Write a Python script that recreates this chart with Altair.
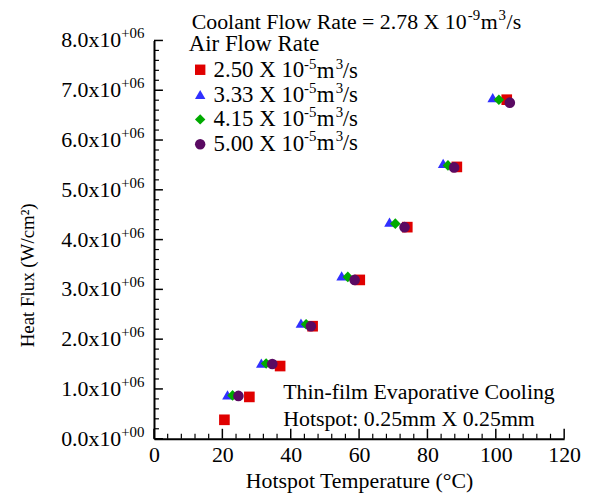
import altair as alt
import pandas as pd

FONT = "Liberation Serif"

# ---- data ----
series_labels = ["2.50 X 10", "3.33 X 10", "4.15 X 10", "5.00 X 10"]
series_exp = "-5"
series_unit = "m"
series_unit_exp = "3"
series_tail = "/s"
series_shapes = ["square", "triangle-up", "diamond", "circle"]
series_colors = ["#e00000", "#3030ff", "#00aa00", "#5a0a62"]

temp_250 = [20.6, 27.9, 36.9, 46.4, 60.2, 74.1, 88.6, 103.2]
flux_250 = [0.38e6, 0.84e6, 1.46e6, 2.26e6, 3.19e6, 4.25e6, 5.46e6, 6.81e6]

temp_333 = [21.5, 31.4, 43.0, 54.9, 68.9, 84.6, 99.1]
flux_333 = [0.88e6, 1.52e6, 2.32e6, 3.27e6, 4.35e6, 5.53e6, 6.85e6]

temp_415 = [23.0, 32.8, 44.5, 56.7, 70.6, 86.0, 100.9]
flux_415 = [0.87e6, 1.51e6, 2.30e6, 3.25e6, 4.32e6, 5.49e6, 6.81e6]

temp_500 = [24.7, 34.6, 45.9, 58.7, 73.3, 87.8, 104.1]
flux_500 = [0.86e6, 1.50e6, 2.26e6, 3.19e6, 4.25e6, 5.45e6, 6.75e6]

x_major = [0, 20, 40, 60, 80, 100, 120]
x_minor = [v for v in range(0, 121, 4) if v % 20 != 0]
y_major = [0, 1e6, 2e6, 3e6, 4e6, 5e6, 6e6, 7e6, 8e6]
y_minor = [i * 2e5 for i in range(41) if i % 5 != 0]
y_label_main = ["0.0x10", "1.0x10", "2.0x10", "3.0x10", "4.0x10", "5.0x10", "6.0x10", "7.0x10", "8.0x10"]
y_label_sup = ["+00", "+06", "+06", "+06", "+06", "+06", "+06", "+06", "+06"]

title_parts = ["Coolant Flow Rate = 2.78 X 10", "-9", "m", "3", "/s"]
note_lines = ["Thin-film Evaporative Cooling", "Hotspot: 0.25mm X 0.25mm"]
note_T = [37.8, 37.8]
note_Q = [0.94e6, 0.40e6]

# ---- tables ----
rows = []
for k, (ts, qs) in enumerate([(temp_250, flux_250), (temp_333, flux_333),
                              (temp_415, flux_415), (temp_500, flux_500)]):
    for t, q in zip(ts, qs):
        rows.append({"T": t, "Q": q, "series": series_labels[k], "ord": k})
df = pd.DataFrame(rows)

xs = alt.Scale(domain=[0, 120], nice=False, zero=False)
ys = alt.Scale(domain=[0, 8e6], nice=False, zero=False)

x_axis = alt.Axis(values=x_major, ticks=False, grid=False, domainColor="black",
                  domainWidth=2, labelFont=FONT, labelFontSize=22, labelColor="black",
                  labelPadding=6, title="Hotspot Temperature (°C)", titleFont=FONT,
                  titleFontSize=22, titleFontWeight="normal", titleColor="black",
                  titlePadding=5, labelFlush=False)
y_axis = alt.Axis(values=y_major, ticks=False, grid=False, labels=False,
                  domainColor="black", domainWidth=2,
                  title="Heat Flux (W/cm²)", titleFont=FONT, titleFontSize=19,
                  titleFontWeight="normal", titleColor="black",
                  titleX=-127, titleY=236, titleAngle=-90, titleBaseline="middle",
                  titleAlign="center")

x_enc = alt.X("T:Q", scale=xs, axis=x_axis)
y_enc = alt.Y("Q:Q", scale=ys, axis=y_axis)

legend = alt.Legend(title="Air Flow Rate", orient="none", legendX=35, legendY=-7,
                    titleFont=FONT, titleFontSize=23, titleFontWeight="normal",
                    titleColor="black", labelFont=FONT, labelFontSize=23,
                    labelColor="black", symbolSize=110, rowPadding=1, labelOffset=2,
                    titlePadding=2, symbolStrokeWidth=0)

points = alt.Chart(df).mark_point(filled=True, opacity=1, size=115, strokeWidth=0).encode(
    x=x_enc,
    y=y_enc,
    shape=alt.Shape("series:N", scale=alt.Scale(domain=series_labels, range=series_shapes),
                    legend=legend),
    color=alt.Color("series:N", scale=alt.Scale(domain=series_labels, range=series_colors),
                    legend=legend),
    order=alt.Order("ord:Q"),
)

xmaj = alt.Chart(pd.DataFrame({"T": x_major})).mark_rule(color="black", strokeWidth=1.5).encode(
    x=x_enc, y=alt.value(401), y2=alt.value(391))
xmin = alt.Chart(pd.DataFrame({"T": x_minor})).mark_rule(color="black", strokeWidth=1.2).encode(
    x=x_enc, y=alt.value(401), y2=alt.value(396))
ymaj = alt.Chart(pd.DataFrame({"Q": y_major})).mark_rule(color="black", strokeWidth=1.5).encode(
    y=y_enc, x=alt.value(0), x2=alt.value(9))
ymin = alt.Chart(pd.DataFrame({"Q": y_minor})).mark_rule(color="black", strokeWidth=1.2).encode(
    y=y_enc, x=alt.value(0), x2=alt.value(5))

ylab_df = pd.DataFrame({"Q": y_major, "main": y_label_main, "sup": y_label_sup})
ylab_main = alt.Chart(ylab_df).mark_text(font=FONT, fontSize=22, align="right",
                                         baseline="middle", color="black").encode(
    y=y_enc, x=alt.value(-33), text="main:N")
ylab_sup = alt.Chart(ylab_df).mark_text(font=FONT, fontSize=15, align="left",
                                        baseline="middle", color="black", dy=-7).encode(
    y=y_enc, x=alt.value(-33), text="sup:N")

note_df = pd.DataFrame({"t": note_lines, "T": note_T, "Q": note_Q})
note_mark = alt.Chart(note_df).mark_text(
    font=FONT, fontSize=22, align="left", baseline="middle", color="black").encode(
    x=x_enc, y=y_enc, text="t:N")


def seg(text, x, y, size, dy=0):
    return alt.Chart(pd.DataFrame({"t": [text]})).mark_text(
        font=FONT, fontSize=size, align="left", baseline="middle", color="black", dy=dy
    ).encode(x=alt.value(x), y=alt.value(y), text="t:N")


# title line with superscripts (pixel offsets relative to plot origin)
title_y = -19
text_layers = [
    seg(title_parts[0], 38, title_y, 22),
    seg(title_parts[1], 316, title_y, 15, dy=-7),
    seg(title_parts[2], 329, title_y, 22),
    seg(title_parts[3], 347, title_y, 15, dy=-7),
    seg(title_parts[4], 355, title_y, 22),
]

# superscript parts of the legend labels
row_y = [31, 55, 79, 103]
for ry in row_y:
    text_layers += [
        seg(series_exp, 151, ry, 15, dy=-7),
        seg(series_unit, 164, ry, 23),
        seg(series_unit_exp, 183, ry, 15, dy=-7),
        seg(series_tail, 190, ry, 23),
    ]

chart = alt.layer(points, xmaj, xmin, ymaj, ymin, ylab_main, ylab_sup, note_mark,
                  *text_layers).properties(
    width=413, height=401,
    autosize=alt.AutoSizeParams(type="none"),
    padding={"left": 147, "top": 31, "right": 25, "bottom": 57},
).configure_view(stroke=None)

chart.save("out.html", embed_options={"renderer": "svg", "actions": False})
